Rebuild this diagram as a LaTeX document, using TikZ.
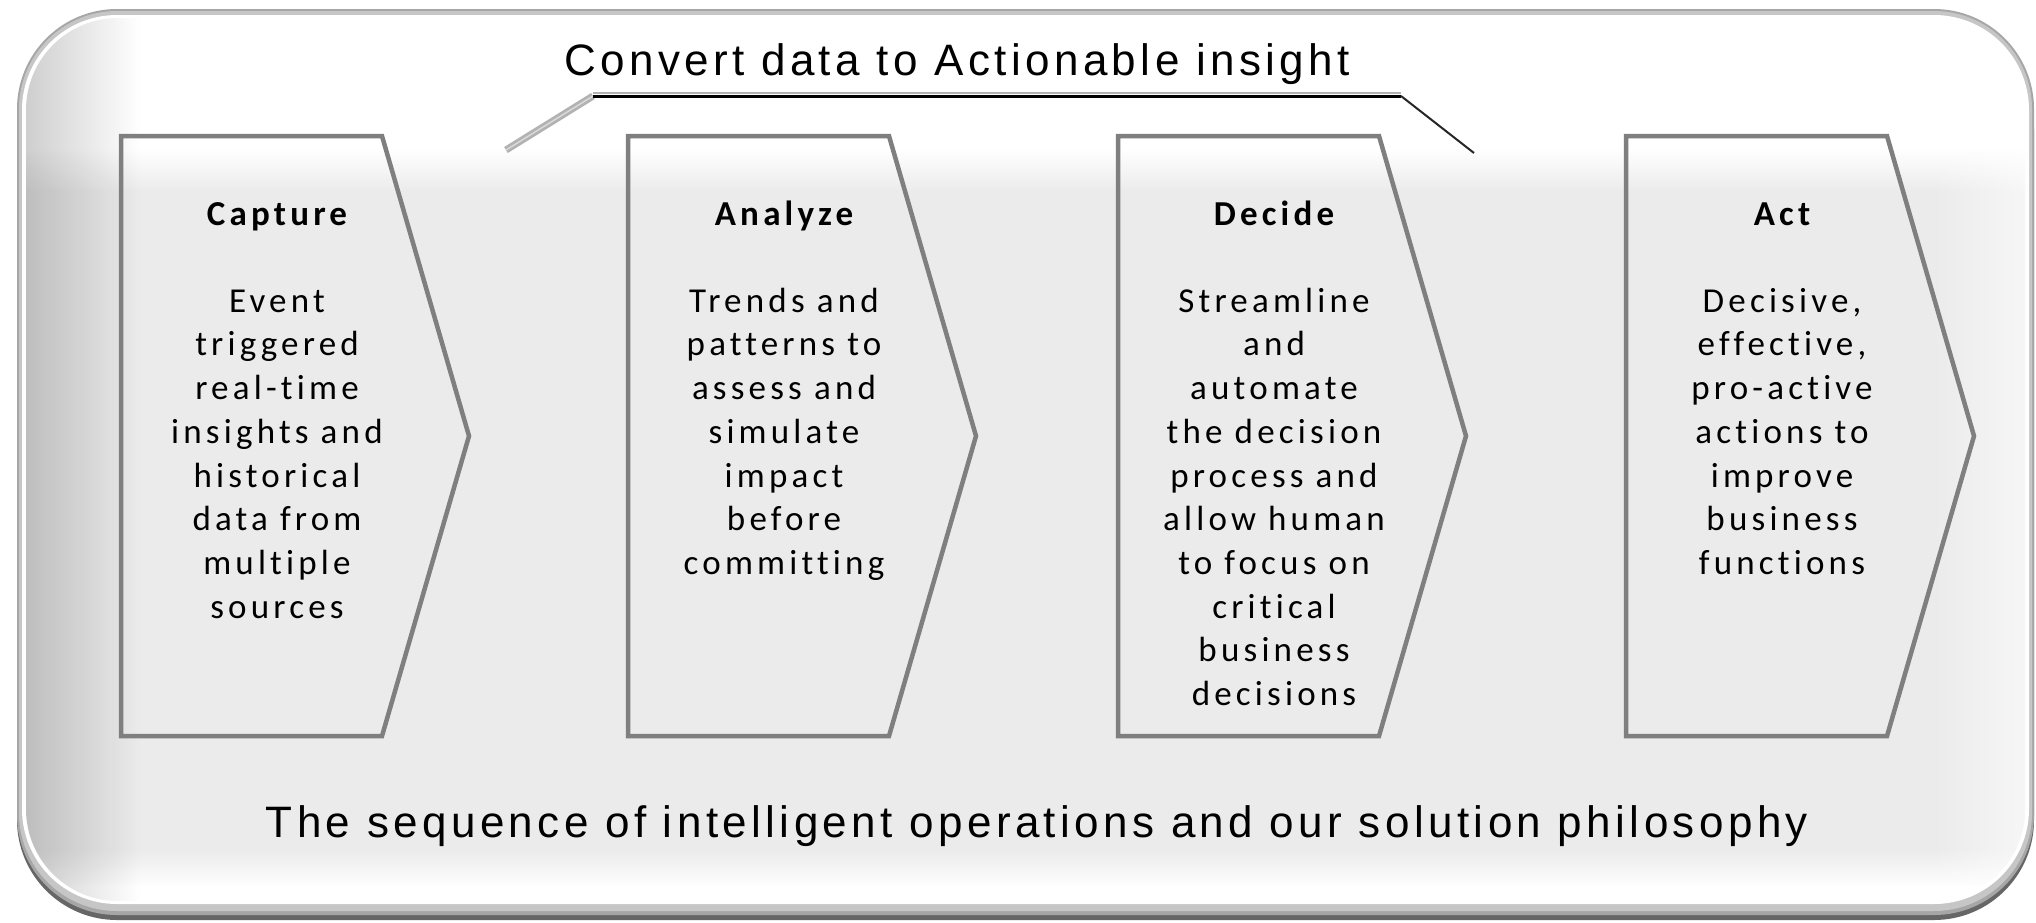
\documentclass[tikz,border=0pt]{standalone}
\usepackage{fontspec}
\setmainfont{Carlito}
\newfontfamily\capfont{Carlito}[LetterSpace=12, Ligatures={NoCommon}]
\newfontfamily\headfont{Liberation Sans}[LetterSpace=10, Ligatures={NoCommon}]
\usetikzlibrary{fadings}
\tikzfading[name=myfaderight, left color=transparent!0, right color=transparent!100]
\tikzfading[name=myfadeleft, left color=transparent!100, right color=transparent!0]
\definecolor{bgg}{HTML}{EBEBEB}
\definecolor{chevline}{HTML}{7F7F7F}
\begin{document}
\begin{tikzpicture}[x=1pt,y=-1pt,
  chev/.style={draw=chevline, line width=4.5pt, line join=miter},
  steptitle/.style={anchor=base, inner sep=0pt, font=\capfont\bfseries\fontsize{35}{42}\selectfont},
  stepbody/.style={anchor=north, inner sep=0pt, align=center, font=\capfont\fontsize{35}{43.7}\selectfont},
  headline/.style={anchor=base, inner sep=0pt, font=\headfont\fontsize{44}{50}\selectfont},
]
\useasboundingbox (0,0) rectangle (2036,922);
\fill[white] (0,0) rectangle (2036,922);
% outer bevelled panel
\fill[black!60, rounded corners=100pt] (17,30) rectangle (2034,920);
\fill[gray!70, rounded corners=100pt] (17,9) rectangle (2034,915);
\fill[gray!45, rounded corners=98pt] (19,11) rectangle (2032,911);
\fill[white, rounded corners=95pt] (22,15) rectangle (2029,904);
\begin{scope}
  \clip[rounded corners=92pt] (26,18) rectangle (2025,901);
  \fill[white] (0,0) rectangle (2036,150);
  \shade[top color=white, bottom color=bgg] (0,148) rectangle (2036,192);
  \fill[bgg] (0,190) rectangle (2036,852);
  \shade[top color=bgg, bottom color=white] (0,850) rectangle (2036,888);
  \fill[white] (0,886) rectangle (2036,922);
  \fill[black, opacity=0.2, path fading=myfaderight] (20,0) rectangle (140,922);
  \fill[white, opacity=0.6, path fading=myfadeleft] (1930,0) rectangle (2030,922);
\end{scope}
% bracket over the first three steps
\coordinate (b1) at (506,150);
\coordinate (b2) at (593,96);
\coordinate (b3) at (1401,96);
\coordinate (b4) at (1474,153);
\draw[gray!60, line width=7pt] (b1) -- (b2);
\draw[white!70!gray, line width=1.5pt] (b1) -- (b2);
\draw[gray!60, line width=2pt] ([yshift=3pt]b2) -- ([yshift=3pt]b3);
\draw[black, line width=3pt] (b2) -- (b3);
\draw[black!85, line width=2pt] (b3) -- (b4);
\node[headline] (head) at (957,75) {Convert data to Actionable insight};
% chevrons
\foreach \nm/\lx in {cap/121, ana/628, dec/1118, act/1626} {
  \draw[chev] (\lx,136) -- (\lx+261,136) -- (\lx+348,436) -- (\lx+261,736) -- (\lx,736) -- cycle;
}
\node[steptitle] (capT) at (277,225) {Capture};
\node[steptitle] (anaT) at (784,225) {Analyze};
\node[steptitle] (decT) at (1274,225) {Decide};
\node[steptitle] (actT) at (1782,225) {Act};
\node[stepbody] (capB) at (277,282) {\rule{0pt}{30pt}Event\\triggered\\real-time\\insights and\\historical\\data from\\multiple\\sources};
\node[stepbody] (anaB) at (784,282) {\rule{0pt}{30pt}Trends and\\patterns to\\assess and\\simulate\\impact\\before\\committing};
\node[stepbody] (decB) at (1274,282) {\rule{0pt}{30pt}Streamline\\and\\automate\\the decision\\process and\\allow human\\to focus on\\critical\\business\\decisions};
\node[stepbody] (actB) at (1782,282) {\rule{0pt}{30pt}Decisive,\\effective,\\pro-active\\actions to\\improve\\business\\functions};
\node[headline] (foot) at (1037,837) {The sequence of intelligent operations and our solution philosophy};
\end{tikzpicture}
\end{document}
